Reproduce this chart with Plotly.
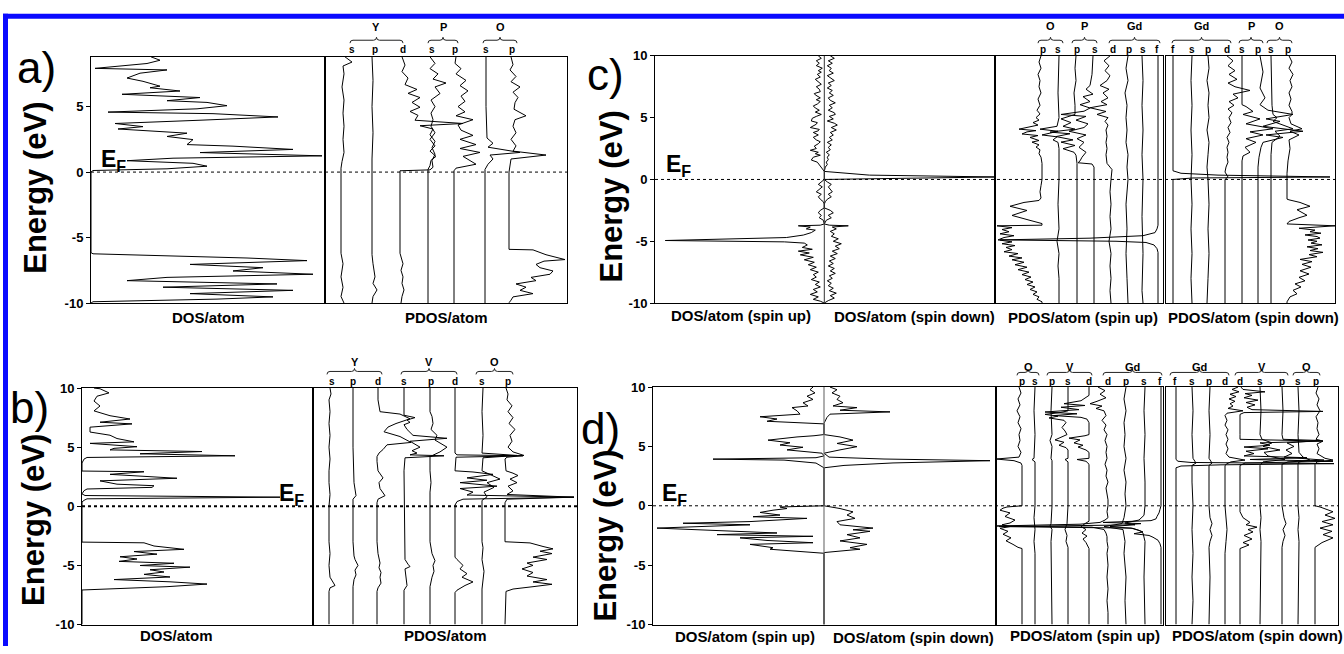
import plotly.graph_objects as go

W, H = 1344, 654
FONT = "Arial, 'Liberation Sans', Helvetica, sans-serif"

# ------------------------------------------------------------------
# Densities of states: (energy in eV, DOS in arbitrary units)
# ------------------------------------------------------------------

# ---- a) total DOS ----
a_dos = [(8.8, 60), (8.54, 69), (8.29, 56), (7.92, 4), (7.80, 76), (7.55, 49), (7.18, 36), (6.93, 52),
         (6.56, 69), (6.44, 59), (6.19, 89), (5.94, 31), (5.69, 109), (5.45, 76), (5.32, 116), (5.07, 136),
         (4.83, 106), (4.58, 17), (4.46, 122), (4.21, 187), (3.96, 109), (3.71, 24), (3.47, 52), (3.29, 27),
         (2.97, 96), (2.72, 76), (2.48, 102), (2.10, 96), (1.98, 142), (1.73, 202), (1.49, 109), (1.24, 231),
         (1.06, 82), (0.87, 36), (0.67, 102), (0.45, 116), (0.25, 76), (0.12, 2), (0.0, 0), (-6.15, 0),
         (-6.24, 2), (-6.56, 156), (-6.76, 216), (-7.05, 99), (-7.30, 172), (-7.55, 142), (-7.80, 222),
         (-8.04, 76), (-8.29, 36), (-8.54, 186), (-8.79, 72), (-9.03, 202), (-9.28, 99), (-9.53, 182),
         (-9.70, 126), (-9.90, 2), (-10.0, 0)]

# ---- a) projected DOS ----
a_Ys = [(8.8, 4), (8.4, 11), (8.1, 2), (7.5, 3), (6.5, 1), (5.5, 3), (4.5, 2), (3.5, 3), (2.5, 2), (1.5, 3),
        (0.8, 1), (0.3, 0), (-6.2, 0), (-7.0, 2), (-8.0, 0), (-8.8, 2), (-9.5, 0), (-10.0, 3)]
a_Yp = [(8.8, 0), (7.0, 1), (5.0, 0), (3.0, 1), (1.0, 0), (-6.3, 0), (-7.0, 1), (-8.0, 3), (-8.5, 1),
        (-9.0, 5), (-9.5, 1), (-10.0, 0)]
a_Yd = [(8.8, 2), (8.17, 5), (7.67, 2), (7.18, 8), (6.68, 5), (6.31, 17), (6.01, 8), (5.69, 20), (5.32, 12),
        (4.95, 20), (4.63, 10), (4.33, 18), (3.96, 15), (3.71, 63), (3.54, 20), (3.29, 33), (2.85, 30),
        (2.35, 35), (1.86, 32), (1.36, 35), (0.87, 32), (0.37, 33), (0.17, 30), (0.1, 0), (-6.2, 0),
        (-6.5, 1), (-7.0, 3), (-7.5, 1), (-8.0, 3), (-8.5, 2), (-9.0, 4), (-9.5, 2), (-10.0, 1)]
a_Ps = [(8.8, 2), (8.3, 7), (7.9, 2), (7.5, 10), (7.1, 5), (6.8, 18), (6.5, 7), (6.0, 12), (5.5, 3), (5.0, 7),
        (4.5, 3), (4.0, 5), (3.5, 3), (3.0, 7), (2.5, 2), (2.0, 7), (1.6, 2), (1.2, 8), (0.9, 3), (0.5, 2),
        (0.2, 0), (-10.0, 0)]
a_Pp = [(8.8, 2), (8.3, 1), (7.9, 7), (7.5, 2), (7.0, 12), (6.6, 6), (6.2, 14), (5.8, 7), (5.4, 11), (5.0, 4),
        (4.6, 11), (4.3, 2), (4.0, 19), (3.6, 4), (3.2, 7), (2.8, 19), (2.5, 6), (2.1, 22), (1.8, 6), (1.5, 26),
        (1.2, 9), (0.6, 22), (0.3, 2), (0.1, 0), (-10.0, 0)]
a_Os = [(8.8, 1), (5.0, 1), (2.6, 2), (2.2, 8), (1.9, 3), (1.5, 35), (1.3, 5), (1.0, 8), (0.6, 3), (0.2, 0),
        (-10.0, 0)]
a_Op = [(8.8, 2), (8.2, 4), (7.8, 1), (7.3, 7), (6.9, 2), (6.5, 11), (6.1, 4), (5.7, 9), (5.3, 6), (4.8, 5),
        (4.3, 17), (4.0, 6), (3.5, 4), (3.0, 7), (2.5, 2), (2.0, 7), (1.6, 4), (1.3, 37), (1.0, 2), (0.5, 1),
        (0.0, 0), (-5.9, 0), (-5.94, 24), (-6.31, 37), (-6.68, 56), (-6.8, 35), (-7.05, 27), (-7.30, 31),
        (-7.55, 44), (-7.80, 41), (-8.04, 22), (-8.29, 27), (-8.54, 7), (-8.79, 17), (-9.03, 11), (-9.28, 24),
        (-9.53, 4), (-9.78, 2), (-9.98, 0)]

# ---- b) total DOS ----
b_dos = [(10.0, 12), (9.94, 18), (9.59, 27), (9.31, 15), (8.90, 12), (8.48, 18), (8.07, 12), (7.66, 28),
         (7.38, 48), (7.11, 18), (6.97, 50), (6.69, 8), (6.28, 8), (6.01, 28), (5.73, 35), (5.45, 52),
         (5.32, 8), (5.04, 55), (4.90, 32), (4.77, 28), (4.63, 120), (4.44, 58), (4.27, 153), (4.13, 5),
         (3.99, 2), (3.66, 0), (2.98, 0), (2.92, 62), (2.70, 28), (2.37, 95), (2.15, 18), (1.87, 35),
         (1.74, 72), (1.60, 70), (1.46, 5), (1.32, 2), (1.05, 0), (0.91, 3), (0.77, 198), (0.63, 5),
         (0.50, 2), (0.36, 0), (-3.03, 0), (-3.09, 62), (-3.36, 72), (-3.64, 102), (-3.83, 52), (-4.05, 75),
         (-4.27, 38), (-4.46, 55), (-4.66, 37), (-4.82, 92), (-5.01, 58), (-5.15, 108), (-5.37, 68),
         (-5.56, 82), (-5.76, 62), (-5.98, 88), (-6.20, 32), (-6.39, 88), (-6.58, 125), (-6.80, 85),
         (-7.08, 0), (-10.0, 0)]

# ---- b) projected DOS ----
b_Ys = [(10.0, 1), (9.5, 2), (9.0, 0), (8.0, 1), (7.0, 0), (6.0, 1), (5.0, 0), (4.0, 1), (3.0, 0), (2.0, 0),
        (1.0, 1), (0.0, 0), (-3.0, 0), (-4.0, 1), (-5.0, 0), (-6.0, 1), (-6.7, 6), (-6.9, 1), (-7.2, 0),
        (-10.0, 0)]
b_Yp = [(10.0, 0), (5.0, 0), (2.0, 1), (0.9, 3), (0.6, 0), (-3.0, 0), (-4.2, 1), (-4.5, 2), (-5.0, 5),
        (-5.4, 2), (-5.8, 3), (-6.2, 1), (-6.8, 0), (-10.0, 0)]
b_Yd = [(10.0, 1), (9.0, 1), (8.0, 3), (7.8, 23), (7.4, 33), (7.0, 19), (6.7, 11), (6.3, 7), (5.9, 23),
        (5.4, 34), (5.2, 10), (4.8, 6), (4.5, 2), (4.2, 0), (3.8, 0), (3.0, 1), (2.4, 6), (2.0, 2), (1.5, 3),
        (0.9, 8), (0.6, 1), (0.3, 0), (-3.0, 0), (-4.0, 1), (-4.8, 3), (-5.2, 2), (-5.6, 4), (-6.0, 3),
        (-6.5, 4), (-6.9, 1), (-7.2, 0), (-10.0, 0)]
b_Vs = [(10.0, 0), (7.7, 0), (7.5, 11), (7.3, 3), (7.1, 6), (6.9, 0), (6.5, 3), (6.0, 9), (5.75, 43),
        (5.5, 6), (5.0, 16), (4.7, 8), (4.5, 13), (4.35, 6), (4.27, 40), (4.1, 1), (3.0, 0), (-4.5, 1),
        (-4.9, 4), (-5.1, 6), (-5.3, 1), (-6.7, 3), (-7.1, 0), (-10.0, 0)]
b_Vp = [(10.0, 0), (8.0, 0), (7.6, 2), (7.0, 3), (6.5, 1), (6.0, 7), (5.6, 5), (5.0, 17), (4.6, 10), (4.3, 3),
        (4.2, 0), (3.0, 0), (2.0, 1), (1.2, 0), (-3.0, 0), (-4.0, 2), (-4.6, 5), (-5.0, 3), (-5.5, 4),
        (-6.0, 2), (-6.8, 0), (-10.0, 0)]
b_Vd = [(10.0, 0), (4.5, 0), (4.35, 2), (4.27, 68), (4.15, 1), (3.0, 0), (2.9, 18), (2.7, 38), (2.4, 12),
        (2.2, 32), (2.0, 5), (1.7, 42), (1.5, 5), (1.2, 18), (0.95, 12), (0.77, 119), (0.6, 8), (0.4, 2),
        (0.1, 0), (-4.3, 0), (-4.5, 2), (-5.0, 8), (-5.3, 5), (-5.7, 12), (-6.0, 7), (-6.4, 18), (-6.7, 10),
        (-7.1, 2), (-7.3, 0), (-10.0, 0)]
b_Os = [(10.0, 1), (8.0, 0), (6.0, 1), (4.5, 0), (4.3, 35), (4.1, 1), (3.0, 0), (2.6, 10), (2.3, 18), (2.0, 5),
        (1.6, 12), (1.2, 2), (0.8, 5), (0.5, 0), (-3.0, 0), (-3.5, 1), (-4.5, 0), (-5.5, 2), (-6.5, 1),
        (-7.0, 0), (-10.0, 0)]
b_Op = [(10.0, 1), (9.5, 3), (9.0, 2), (8.5, 7), (8.0, 3), (7.5, 8), (7.0, 4), (6.5, 10), (6.0, 5), (5.5, 7),
        (5.0, 3), (4.6, 8), (4.3, 19), (4.15, 2), (4.0, 0), (3.0, 1), (2.8, 8), (2.6, 13), (2.3, 5), (2.0, 12),
        (1.7, 3), (1.3, 8), (1.0, 2), (0.77, 69), (0.6, 2), (0.3, 0), (-3.0, 0), (-3.1, 25), (-3.4, 38),
        (-3.6, 48), (-3.8, 35), (-4.0, 47), (-4.3, 28), (-4.5, 42), (-4.8, 22), (-5.0, 28), (-5.3, 17),
        (-5.6, 28), (-5.9, 22), (-6.2, 42), (-6.4, 28), (-6.6, 47), (-6.8, 28), (-7.0, 8), (-7.2, 1),
        (-10.0, 0)]

# ---- c) total DOS, spin up / spin down ----
c_dos_up = [(10.0, 6), (9.8, 3), (9.6, 8), (9.4, 5), (9.21, 8), (9.0, 2), (8.8, 6), (8.68, 3), (8.5, 7),
            (8.29, 4), (8.1, 9), (7.89, 6), (7.7, 3), (7.5, 8), (7.3, 5), (7.1, 4), (6.95, 10), (6.84, 9),
            (6.6, 4), (6.45, 8), (6.31, 4), (6.1, 7), (5.95, 11), (5.78, 9), (5.6, 5), (5.45, 9), (5.26, 3),
            (5.1, 8), (4.95, 12), (4.73, 13), (4.6, 7), (4.47, 8), (4.3, 12), (4.2, 14), (4.05, 5), (3.94, 6),
            (3.8, 11), (3.6, 6), (3.41, 11), (3.2, 8), (3.05, 4), (2.89, 6), (2.7, 10), (2.5, 8), (2.36, 14),
            (2.2, 6), (2.08, 9), (1.96, 4), (1.8, 11), (1.57, 13), (1.4, 7), (1.2, 5), (1.04, 3), (0.85, 2),
            (0.65, 0), (0.0, 0), (-0.2, 3), (-0.4, 6), (-0.6, 2), (-0.8, 5), (-1.0, 8), (-1.2, 3), (-1.4, 6),
            (-1.6, 4), (-1.8, 1), (-2.0, 0), (-2.3, 0), (-2.5, 4), (-2.7, 6), (-2.9, 3), (-3.1, 5), (-3.3, 1),
            (-3.6, 0), (-3.7, 4), (-3.75, 26), (-3.85, 14), (-4.0, 18), (-4.1, 9), (-4.3, 13), (-4.5, 21),
            (-4.7, 38), (-4.94, 159), (-5.05, 40), (-5.15, 20), (-5.3, 17), (-5.5, 22), (-5.65, 12), (-5.8, 26),
            (-5.95, 15), (-6.1, 24), (-6.3, 11), (-6.5, 20), (-6.7, 10), (-6.9, 16), (-7.1, 8), (-7.3, 14),
            (-7.5, 6), (-7.7, 11), (-7.9, 8), (-8.1, 13), (-8.3, 5), (-8.5, 9), (-8.7, 4), (-8.9, 11),
            (-9.1, 7), (-9.3, 14), (-9.5, 6), (-9.7, 11), (-9.85, 4), (-10.0, 0)]
c_dos_dn = [(10.0, 6), (9.8, 10), (9.6, 4), (9.4, 8), (9.2, 3), (9.0, 7), (8.8, 5), (8.6, 9), (8.4, 3),
            (8.2, 6), (8.0, 10), (7.8, 4), (7.6, 7), (7.4, 3), (7.2, 8), (7.0, 5), (6.8, 9), (6.6, 4), (6.4, 6),
            (6.2, 11), (6.0, 5), (5.8, 8), (5.6, 4), (5.4, 10), (5.26, 11), (5.1, 5), (4.9, 9), (4.73, 3),
            (4.55, 10), (4.4, 13), (4.2, 7), (4.0, 12), (3.8, 6), (3.6, 9), (3.4, 5), (3.2, 8), (3.0, 3),
            (2.8, 7), (2.6, 4), (2.4, 6), (2.2, 2), (2.0, 5), (1.8, 3), (1.6, 4), (1.4, 2), (1.2, 3), (1.0, 1),
            (0.65, 0), (0.5, 20), (0.35, 45), (0.2, 171), (0.1, 60), (0.03, 3), (0.0, 0), (-0.2, 3), (-0.4, 7),
            (-0.6, 4), (-0.8, 6), (-1.0, 8), (-1.2, 4), (-1.4, 7), (-1.6, 3), (-1.8, 1), (-2.0, 0), (-2.3, 0),
            (-2.5, 6), (-2.7, 9), (-2.9, 4), (-3.1, 7), (-3.3, 2), (-3.6, 0), (-3.7, 5), (-3.75, 24),
            (-3.85, 8), (-4.0, 12), (-4.2, 6), (-4.4, 10), (-4.6, 7), (-4.8, 14), (-5.0, 9), (-5.2, 17),
            (-5.4, 11), (-5.6, 15), (-5.8, 8), (-6.0, 13), (-6.2, 6), (-6.4, 11), (-6.6, 5), (-6.8, 9),
            (-7.0, 4), (-7.2, 10), (-7.4, 6), (-7.6, 11), (-7.8, 5), (-8.0, 8), (-8.2, 3), (-8.4, 7), (-8.6, 4),
            (-8.8, 9), (-9.0, 5), (-9.2, 12), (-9.4, 6), (-9.6, 10), (-9.8, 4), (-10.0, 0)]

# ---- c) projected DOS, spin up ----
c_up_Op = [(10.0, 1), (9.5, 3), (9.0, 1), (8.5, 4), (8.0, 2), (7.5, 3), (7.0, 1), (6.5, 4), (6.0, 2), (5.6, 5),
           (5.3, 2), (5.0, 6), (4.8, 3), (4.6, 9), (4.4, 4), (4.2, 14), (4.07, 23), (3.95, 6), (3.85, 15),
           (3.68, 20), (3.55, 4), (3.4, 12), (3.28, 8), (3.15, 3), (3.02, 10), (2.8, 3), (2.62, 6), (2.4, 2),
           (2.09, 3), (1.8, 1), (1.3, 0), (0.0, 0), (-0.5, 1), (-1.0, 2), (-1.5, 1), (-1.7, 3), (-1.86, 18),
           (-2.17, 32), (-2.51, 15), (-2.91, 30), (-3.31, 12), (-3.57, 0), (-3.7, 0), (-3.75, 45), (-3.9, 30),
           (-4.05, 40), (-4.23, 33), (-4.4, 42), (-4.55, 28), (-4.7, 38), (-4.89, 44), (-5.05, 30), (-5.2, 40),
           (-5.35, 27), (-5.5, 36), (-5.68, 30), (-5.85, 38), (-6.0, 24), (-6.2, 33), (-6.35, 20), (-6.5, 30),
           (-6.7, 18), (-6.9, 27), (-7.1, 15), (-7.3, 24), (-7.5, 13), (-7.7, 20), (-7.9, 11), (-8.1, 17),
           (-8.3, 9), (-8.5, 15), (-8.7, 7), (-8.9, 12), (-9.1, 5), (-9.3, 9), (-9.5, 3), (-9.7, 5), (-9.9, 0),
           (-10.0, 0)]
c_up_Os = [(10.0, 0), (7.0, 1), (5.0, 0), (4.3, 2), (4.07, 19), (3.9, 1), (3.6, 17), (3.45, 2), (3.2, 6),
           (3.0, 1), (2.5, 0), (0.0, 0), (-2.0, 1), (-4.0, 0), (-5.0, 2), (-6.0, 0), (-7.0, 1), (-8.0, 0),
           (-10.0, 0)]
c_up_Pp = [(10.0, 1), (9.0, 2), (8.0, 1), (7.0, 3), (6.0, 2), (5.26, 2), (4.9, 16), (4.6, 6), (4.3, 14),
           (4.07, 2), (3.83, 27), (3.7, 7), (3.47, 21), (3.2, 4), (3.02, 16), (2.75, 2), (2.49, 14), (2.2, 3),
           (1.96, 1), (1.3, 0), (-10.0, 0)]
c_up_Ps = [(10.0, 1), (8.5, 2), (7.6, 4), (7.3, 8), (6.9, 1), (6.7, 11), (6.3, 4), (6.05, 14), (5.78, 4),
           (5.52, 10), (5.26, 33), (5.1, 8), (4.8, 18), (4.5, 6), (4.2, 10), (3.9, 25), (3.6, 8), (3.3, 17),
           (3.0, 10), (2.6, 15), (2.2, 8), (1.8, 12), (1.5, 14), (1.35, 16), (1.25, 2), (1.0, 0), (-10.0, 0)]
c_up_Gdd = [(10.0, 2), (9.6, 8), (9.2, 3), (8.8, 7), (8.4, 2), (8.0, 5), (7.6, 12), (7.3, 3), (7.0, 9),
            (6.6, 4), (6.3, 11), (6.05, 5), (5.8, 22), (5.5, 6), (5.26, 15), (5.0, 4), (4.7, 7), (4.4, 4),
            (4.0, 6), (3.5, 5), (3.0, 6), (2.5, 5), (2.0, 6), (1.5, 5), (1.3, 5), (1.0, 2), (0.8, 0), (0.0, 1),
            (-1.0, 2), (-2.0, 1), (-3.0, 2), (-4.0, 1), (-5.0, 3), (-6.0, 1), (-7.0, 2), (-8.0, 1), (-9.0, 2),
            (-10.0, 1)]
c_up_Gdp = [(10.0, 0), (9.0, 2), (8.0, 0), (7.0, 3), (6.0, 1), (5.0, 2), (4.0, 1), (3.0, 2), (2.0, 0),
            (1.0, 1), (0.0, 0), (-2.0, 2), (-4.0, 1), (-6.0, 2), (-8.0, 1), (-10.0, 0)]
c_up_Gds = [(10.0, 1), (8.0, 0), (6.0, 1), (4.0, 0), (2.0, 1), (0.0, 0), (-3.0, 1), (-6.0, 0), (-9.0, 1),
            (-10.0, 0)]
c_up_Gdf = [(10.0, 0), (-3.7, 0), (-4.0, 1), (-4.3, 3), (-4.55, 15), (-4.75, 68), (-4.89, 158), (-5.0, 42),
            (-5.1, 12), (-5.3, 4), (-5.6, 1), (-5.9, 0), (-10.0, 0)]

# ---- c) projected DOS, spin down ----
c_dn_Gdf = [(10.0, 0), (0.7, 0), (0.5, 8), (0.35, 45), (0.25, 120), (0.2, 157), (0.12, 20), (0.04, 2),
            (0.0, 0), (-10.0, 0)]
c_dn_Gds = [(10.0, 1), (8.0, 0), (6.0, 1), (4.0, 0), (2.0, 1), (0.0, 0), (-2.0, 1), (-4.0, 0), (-6.0, 1),
            (-8.0, 0), (-10.0, 1)]
c_dn_Gdp = [(10.0, 1), (9.0, 2), (8.0, 0), (7.0, 2), (6.0, 1), (5.0, 2), (4.0, 0), (3.0, 2), (2.0, 1),
            (1.0, 0), (0.0, 1), (-2.0, 2), (-4.0, 1), (-6.0, 2), (-8.0, 1), (-10.0, 0)]
c_dn_Gdd = [(10.0, 2), (9.6, 8), (9.2, 3), (8.8, 10), (8.5, 4), (8.1, 12), (7.8, 3), (7.5, 10), (7.2, 25),
            (6.9, 8), (6.6, 13), (6.3, 4), (6.0, 9), (5.7, 3), (5.4, 7), (5.0, 4), (4.6, 6), (4.2, 3), (3.8, 5),
            (3.4, 2), (3.0, 4), (2.6, 2), (2.2, 3), (1.8, 2), (1.4, 3), (1.0, 1), (0.6, 0), (0.2, 3), (0.0, 0),
            (-10.0, 0)]
c_dn_Ps = [(10.0, 0), (6.05, 0), (5.9, 4), (5.5, 11), (5.26, 1), (4.9, 18), (4.5, 4), (4.1, 31), (3.85, 8),
           (3.6, 21), (3.3, 4), (3.0, 14), (2.6, 3), (2.2, 8), (1.9, 1), (1.5, 0), (-10.0, 0)]
c_dn_Pp = [(10.0, 2), (8.7, 5), (7.4, 2), (6.6, 7), (6.05, 2), (5.6, 10), (5.26, 35), (4.9, 8), (4.7, 22),
           (4.3, 5), (3.9, 45), (3.6, 8), (3.4, 25), (3.0, 5), (2.6, 3), (1.8, 1), (1.0, 0), (-10.0, 0)]
c_dn_Os = [(10.0, 0), (6.0, 1), (5.26, 2), (5.0, 6), (4.7, 2), (4.1, 22), (3.9, 4), (3.5, 9), (3.0, 1),
           (2.0, 0), (-10.0, 0)]
c_dn_Op = [(10.0, 2), (9.5, 5), (9.0, 2), (8.5, 6), (8.0, 3), (7.5, 5), (7.0, 2), (6.5, 4), (6.0, 2), (5.5, 5),
           (5.26, 5), (5.0, 2), (4.5, 4), (4.1, 15), (3.9, 3), (3.6, 12), (3.2, 2), (2.5, 3), (1.5, 1), (0.5, 0),
           (-1.59, 0), (-1.65, 2), (-1.86, 13), (-2.17, 23), (-2.45, 10), (-2.9, 20), (-3.1, 12), (-3.4, 2),
           (-3.6, 0), (-3.75, 48), (-3.95, 12), (-4.1, 28), (-4.23, 23), (-4.35, 34), (-4.49, 18), (-4.62, 30),
           (-4.75, 33), (-4.9, 21), (-5.0, 30), (-5.15, 24), (-5.29, 35), (-5.45, 20), (-5.6, 31), (-5.75, 23),
           (-5.9, 36), (-6.08, 22), (-6.25, 30), (-6.47, 13), (-6.65, 25), (-6.87, 15), (-7.1, 24), (-7.39, 13),
           (-7.65, 22), (-7.92, 12), (-8.2, 18), (-8.45, 8), (-8.7, 14), (-8.97, 6), (-9.25, 10), (-9.5, 3),
           (-9.9, 0), (-10.0, 0)]

# ---- d) total DOS, spin up / spin down ----
d_dos_up = [(10.0, 11), (9.78, 14), (9.51, 9), (9.23, 17), (8.96, 11), (8.68, 21), (8.41, 16), (8.27, 32),
            (8.0, 27), (7.72, 24), (7.5, 64), (7.31, 47), (7.12, 57), (6.95, 1), (6.9, 0), (6.0, 0), (5.9, 10),
            (5.8, 27), (5.53, 56), (5.31, 34), (5.12, 44), (4.93, 21), (4.71, 37), (4.43, 2), (4.2, 0),
            (4.05, 8), (3.93, 111), (3.85, 40), (3.6, 8), (3.2, 0), (0.0, 0), (-0.1, 44), (-0.23, 37),
            (-0.37, 51), (-0.56, 64), (-0.78, 44), (-0.92, 71), (-1.06, 17), (-1.33, 74), (-1.47, 141),
            (-1.6, 74), (-1.88, 167), (-2.15, 87), (-2.29, 47), (-2.43, 107), (-2.57, 11), (-2.7, 84),
            (-2.92, 57), (-3.11, 11), (-3.25, 74), (-3.53, 51), (-3.66, 54), (-3.75, 40), (-4.0, 0),
            (-10.0, 0)]
d_dos_dn = [(10.0, 6), (9.78, 13), (9.51, 8), (9.23, 16), (8.96, 13), (8.68, 19), (8.41, 9), (8.27, 33),
            (8.05, 16), (7.91, 66), (7.72, 6), (7.45, 3), (6.95, 0), (6.0, 0), (5.8, 16), (5.53, 29), (5.25, 13),
            (4.98, 33), (4.71, 16), (4.43, 0), (4.1, 5), (4.02, 29), (3.94, 60), (3.8, 166), (3.61, 69),
            (3.4, 20), (3.2, 0), (0.0, 0), (-0.23, 16), (-0.51, 29), (-0.78, 23), (-1.06, 31), (-1.33, 13),
            (-1.6, 16), (-1.88, 49), (-2.02, 29), (-2.15, 46), (-2.43, 23), (-2.7, 36), (-2.96, 16),
            (-3.25, 43), (-3.53, 26), (-3.66, 36), (-3.94, 0), (-10.0, 0)]

# ---- d) projected DOS, spin up ----
d_up_Op = [(10.0, 3), (9.5, 1), (9.0, 4), (8.5, 2), (8.0, 5), (7.5, 2), (7.0, 4), (6.5, 1), (6.0, 3), (5.5, 2),
           (5.0, 4), (4.5, 1), (4.1, 3), (3.94, 26), (3.8, 8), (3.6, 1), (3.4, 0), (0.0, 0), (-0.1, 15),
           (-0.2, 19), (-0.37, 22), (-0.6, 12), (-0.9, 17), (-1.2, 7), (-1.45, 12), (-1.6, 20), (-1.75, 12),
           (-1.9, 22), (-2.15, 14), (-2.4, 19), (-2.7, 11), (-2.95, 16), (-3.25, 9), (-3.5, 4), (-3.6, 0),
           (-10.0, 0)]
d_up_Os = [(10.0, 0), (8.0, 1), (6.0, 0), (4.0, 1), (3.9, 3), (3.7, 0), (0.0, 0), (-1.0, 1), (-2.0, 0),
           (-3.0, 1), (-4.0, 0), (-10.0, 0)]
d_up_Vp = [(10.0, 0), (8.0, 1), (6.0, 0), (5.5, 2), (5.0, 0), (4.0, 1), (3.8, 0), (0.0, 0), (-1.5, 1),
           (-1.7, 2), (-2.0, 0), (-3.0, 1), (-10.0, 0)]
d_up_Vs = [(10.0, 0), (8.0, 0), (7.85, 8), (7.7, 23), (7.55, 10), (7.4, 19), (7.2, 4), (7.0, 2), (6.6, 6),
           (6.3, 3), (6.0, 1), (5.8, 7), (5.55, 13), (5.35, 4), (5.1, 9), (4.9, 2), (4.7, 0), (4.0, 0), (3.9, 3),
           (3.7, 0), (0.0, 0), (-1.5, 1), (-2.0, 3), (-2.5, 1), (-3.0, 2), (-3.5, 0), (-10.0, 0)]
d_up_Vd = [(10.0, 0), (9.3, 0), (8.85, 8), (8.6, 25), (8.45, 4), (8.3, 28), (8.1, 10), (7.9, 44), (7.75, 12),
           (7.6, 35), (7.45, 8), (7.3, 2), (7.0, 0), (6.0, 0), (5.9, 4), (5.7, 20), (5.55, 9), (5.3, 15),
           (5.1, 6), (4.95, 11), (4.7, 3), (4.5, 0), (4.0, 0), (3.9, 12), (3.75, 3), (3.5, 0), (0.0, 0),
           (-1.3, 0), (-1.5, 4), (-1.75, 8), (-2.0, 3), (-2.3, 7), (-2.55, 2), (-2.8, 6), (-3.1, 3), (-3.4, 1),
           (-3.6, 0), (-10.0, 0)]
d_up_Gdd = [(10.0, 12), (9.7, 5), (9.4, 10), (9.1, 4), (8.8, 13), (8.6, 20), (8.4, 8), (8.2, 14), (8.0, 6),
            (7.6, 4), (7.2, 8), (6.8, 4), (6.4, 6), (6.0, 3), (5.5, 5), (5.0, 3), (4.5, 4), (4.0, 3), (3.5, 5),
            (3.0, 3), (2.5, 4), (2.0, 2), (1.5, 4), (1.0, 3), (0.5, 2), (0.0, 2), (-0.5, 3), (-1.0, 2),
            (-1.2, 5), (-1.4, 10), (-1.55, 30), (-1.7, 113), (-1.8, 18), (-2.0, 6), (-2.3, 4), (-2.6, 3),
            (-3.0, 3), (-3.5, 2), (-4.0, 3), (-5.0, 2), (-6.0, 3), (-7.0, 2), (-8.0, 3), (-9.0, 2), (-10.0, 2)]
d_up_Gdp = [(10.0, 0), (9.0, 2), (8.0, 0), (7.0, 2), (6.0, 1), (5.0, 2), (4.0, 0), (3.0, 2), (2.0, 0),
            (1.0, 1), (0.0, 0), (-1.0, 2), (-1.5, 4), (-1.75, 22), (-2.0, 3), (-3.0, 1), (-4.0, 2), (-6.0, 0),
            (-8.0, 1), (-10.0, 0)]
d_up_Gds = [(10.0, 0), (8.0, 1), (6.0, 0), (4.0, 1), (2.0, 0), (0.0, 0), (-0.8, 1), (-1.2, 6), (-1.45, 20),
            (-1.6, 10), (-1.75, 35), (-1.9, 12), (-2.1, 5), (-2.3, 2), (-3.0, 0), (-6.0, 1), (-10.0, 0)]
d_up_Gdf = [(10.0, 0), (0.0, 0), (-0.3, 1), (-0.6, 2), (-0.9, 4), (-1.1, 5), (-1.25, 10), (-1.4, 58),
            (-1.5, 20), (-1.62, 38), (-1.75, 162), (-1.88, 30), (-2.05, 23), (-2.2, 18), (-2.35, 27),
            (-2.5, 12), (-2.65, 8), (-2.9, 3), (-3.2, 1), (-3.5, 0), (-10.0, 0)]

# ---- d) projected DOS, spin down ----
d_dn_Gdf = [(10.0, 0), (3.9, 0), (3.75, 2), (3.65, 15), (3.55, 158), (3.45, 45), (3.35, 5), (3.2, 0),
            (-10.0, 0)]
d_dn_Gds = [(10.0, 0), (8.0, 1), (6.0, 0), (4.0, 1), (3.6, 4), (3.4, 0), (2.0, 0), (0.0, 1), (-2.0, 0),
            (-4.0, 1), (-6.0, 0), (-8.0, 1), (-10.0, 0)]
d_dn_Gdp = [(10.0, 1), (8.0, 0), (6.0, 1), (4.0, 0), (3.6, 3), (3.4, 0), (0.0, 0), (-1.0, 1), (-1.5, 3),
            (-2.0, 1), (-2.5, 3), (-3.0, 1), (-3.5, 0), (-6.0, 1), (-10.0, 0)]
d_dn_Gdd = [(10.0, 13), (9.8, 7), (9.6, 14), (9.4, 5), (9.2, 11), (9.0, 4), (8.8, 10), (8.6, 5), (8.4, 8),
            (8.2, 3), (8.0, 18), (7.8, 2), (7.6, 0), (7.2, 2), (6.8, 0), (6.4, 3), (6.0, 1), (5.6, 3), (5.2, 1),
            (4.8, 3), (4.4, 1), (4.1, 4), (3.85, 20), (3.7, 6), (3.55, 2), (3.4, 0), (0.0, 0), (-1.0, 1),
            (-2.0, 2), (-3.0, 1), (-4.0, 0), (-10.0, 0)]
d_dn_Vd = [(10.0, 1), (9.8, 3), (9.6, 25), (9.45, 5), (9.3, 12), (9.1, 4), (8.9, 18), (8.7, 6), (8.5, 15),
           (8.3, 7), (8.1, 12), (7.95, 83), (7.85, 4), (7.7, 0), (6.0, 0), (5.6, 0), (5.45, 83), (5.3, 20),
           (5.1, 30), (4.95, 4), (4.8, 28), (4.6, 6), (4.4, 14), (4.2, 4), (4.05, 67), (3.9, 10), (3.75, 93),
           (3.6, 5), (3.4, 0), (0.0, 0), (-0.5, 0), (-1.0, 3), (-1.4, 10), (-1.6, 6), (-1.8, 17), (-2.0, 8),
           (-2.2, 13), (-2.5, 4), (-2.8, 12), (-3.1, 3), (-3.3, 9), (-3.6, 0), (-10.0, 0)]
d_dn_Vs = [(10.0, 0), (8.0, 1), (6.0, 0), (5.6, 2), (5.3, 12), (5.0, 3), (4.7, 20), (4.5, 4), (4.2, 8),
           (3.9, 25), (3.7, 3), (3.4, 0), (0.0, 0), (-1.0, 1), (-2.0, 0), (-3.0, 1), (-10.0, 0)]
d_dn_Vp = [(10.0, 0), (8.0, 1), (6.0, 0), (5.6, 1), (5.5, 38), (5.3, 5), (5.0, 12), (4.7, 4), (4.4, 10),
           (4.1, 2), (3.85, 42), (3.7, 6), (3.5, 0), (0.0, 0), (-1.0, 2), (-1.5, 4), (-2.0, 1), (-2.5, 3),
           (-3.0, 1), (-3.5, 0), (-10.0, 0)]
d_dn_Os = [(10.0, 0), (8.0, 1), (6.0, 0), (4.5, 1), (4.1, 5), (3.85, 12), (3.7, 1), (3.5, 0), (0.0, 0),
           (-1.0, 1), (-2.0, 0), (-3.0, 1), (-10.0, 0)]
d_dn_Op = [(10.0, 3), (9.5, 1), (9.0, 4), (8.5, 2), (8.0, 5), (7.5, 1), (7.0, 3), (6.5, 2), (6.0, 4), (5.6, 1),
           (5.45, 8), (5.2, 2), (4.8, 4), (4.4, 2), (4.0, 10), (3.85, 18), (3.7, 2), (3.5, 0), (0.0, 0),
           (-0.1, 5), (-0.5, 18), (-0.78, 10), (-1.06, 20), (-1.33, 7), (-1.6, 18), (-1.88, 5), (-2.15, 17),
           (-2.43, 8), (-2.7, 18), (-3.1, 7), (-3.5, 0), (-10.0, 0)]

# energy tick labels
tick_vals_a = [-10, -5, 0, 5]
tick_vals = [-10, -5, 0, 5, 10]
tick_text = {-10: "-10", -5: "-5", 0: "0", 5: "5", 10: "10"}

# column / group labels
a_sub = ["s", "p", "d", "s", "p", "s", "p"]
a_groups = ["Y", "P", "O"]
b_sub = ["s", "p", "d", "s", "p", "d", "s", "p"]
b_groups = ["Y", "V", "O"]
c_up_sub = ["p", "s", "p", "s", "d", "p", "s", "f"]
c_up_groups = ["O", "P", "Gd"]
c_dn_sub = ["f", "s", "p", "d", "s", "p", "s", "p"]
c_dn_groups = ["Gd", "P", "O"]
d_up_sub = ["p", "s", "p", "s", "d", "d", "p", "s", "f"]
d_up_groups = ["O", "V", "Gd"]
d_dn_sub = ["f", "s", "p", "d", "d", "s", "p", "s", "p"]
d_dn_groups = ["Gd", "V", "O"]

# ------------------------------------------------------------------
# page geometry (pixels)
# ------------------------------------------------------------------
def X(p):
    return p / W


def Y(p):
    return 1 - p / H


# (left, right, top, bottom, energy range, DOS range)
boxes = [
    (91, 325, 51, 303, [-10, 8.8], [0, 234]),          # 1  a total
    (325, 567, 51, 303, [-10, 8.8], [0, 242]),         # 2  a projected
    (82, 313, 390, 632, [-10, 10], [0, 231]),          # 3  b total
    (313, 577, 390, 632, [-10, 10], [0, 264]),         # 4  b projected
    (655, 995, 50, 303, [-10, 10], [-169.3, 170.7]),   # 5  c total (up | down)
    (995, 1163, 50, 303, [-10, 10], [0, 168]),         # 6  c projected up
    (1166, 1335, 50, 303, [-10, 10], [0, 169]),        # 7  c projected down
    (653, 996, 389, 632, [-10, 10], [-171, 172]),      # 8  d total (up | down)
    (996, 1163, 389, 632, [-10, 10], [0, 167]),        # 9  d projected up
    (1166, 1338, 389, 632, [-10, 10], [0, 172]),       # 10 d projected down
]
tick_axes = {1: tick_vals_a, 3: tick_vals, 5: tick_vals, 8: tick_vals}

fig = go.Figure()


def ax(k):
    return ("x" if k == 1 else f"x{k}"), ("y" if k == 1 else f"y{k}")


def add_curve(pairs, k, base=0.0, sign=1, width=1.0):
    xa, ya = ax(k)
    fig.add_trace(go.Scatter(
        x=[base + sign * v for _, v in pairs], y=[e for e, _ in pairs],
        mode="lines", line=dict(color="black", width=width),
        xaxis=xa, yaxis=ya, showlegend=False, hoverinfo="skip"))


# total DOS
add_curve(a_dos, 1)
add_curve(b_dos, 3)
add_curve(c_dos_up, 5, sign=-1)
add_curve(c_dos_dn, 5)
add_curve(d_dos_up, 8, sign=-1)
add_curve(d_dos_dn, 8)

# projected DOS columns: (curve, baseline position in page pixels)
pdos_panels = [
    (2, 1, [(a_Ys, 341), (a_Yp, 372), (a_Yd, 400), (a_Ps, 428), (a_Pp, 454), (a_Os, 485), (a_Op, 509)]),
    (4, 1, [(b_Ys, 329), (b_Yp, 353), (b_Yd, 377), (b_Vs, 404), (b_Vp, 430), (b_Vd, 455), (b_Os, 482),
            (b_Op, 505)]),
    (6, -1, [(c_up_Op, 1042), (c_up_Os, 1059), (c_up_Pp, 1077), (c_up_Ps, 1094), (c_up_Gdd, 1112),
             (c_up_Gdp, 1128), (c_up_Gds, 1143), (c_up_Gdf, 1158)]),
    (7, 1, [(c_dn_Gdf, 1173), (c_dn_Gds, 1191), (c_dn_Gdp, 1207), (c_dn_Gdd, 1225), (c_dn_Ps, 1242),
            (c_dn_Pp, 1258), (c_dn_Os, 1271), (c_dn_Op, 1287)]),
    (9, -1, [(d_up_Op, 1022), (d_up_Os, 1035), (d_up_Vp, 1052), (d_up_Vs, 1068), (d_up_Vd, 1089),
             (d_up_Gdd, 1110), (d_up_Gdp, 1126), (d_up_Gds, 1145), (d_up_Gdf, 1161)]),
    (10, 1, [(d_dn_Gdf, 1176), (d_dn_Gds, 1192), (d_dn_Gdp, 1209), (d_dn_Gdd, 1225), (d_dn_Vd, 1240),
             (d_dn_Vs, 1260), (d_dn_Vp, 1282), (d_dn_Os, 1298), (d_dn_Op, 1315)]),
]
for k, sign, cols in pdos_panels:
    left = boxes[k - 1][0]
    for curve, base_px in cols:
        add_curve(curve, k, base=base_px - left, sign=sign)

# ------------------------------------------------------------------
# axes
# ------------------------------------------------------------------
layout = dict(width=W, height=H, margin=dict(l=0, r=0, t=0, b=0),
              paper_bgcolor="white", plot_bgcolor="rgba(0,0,0,0)", showlegend=False,
              font=dict(family=FONT, color="black"))
for k, (l, r, t, b, yr, xr) in enumerate(boxes, start=1):
    xa, ya = ax(k)
    layout["xaxis" if k == 1 else f"xaxis{k}"] = dict(
        domain=[X(l), X(r)], range=xr, anchor=ya, showline=True, mirror=True, linecolor="black",
        linewidth=1, showgrid=False, zeroline=False, showticklabels=False, ticks="", fixedrange=True)
    yax = dict(domain=[Y(b), Y(t)], range=yr, anchor=xa, showline=True, mirror=True, linecolor="black",
               linewidth=1, showgrid=False, zeroline=False, fixedrange=True, showticklabels=False, ticks="")
    if k in tick_axes:
        vals = tick_axes[k]
        yax.update(showticklabels=True, tickmode="array", tickvals=vals,
                   ticktext=[f"<b>{tick_text[v]}</b>" for v in vals],
                   ticks="outside", ticklen=4, tickcolor="black",
                   tickfont=dict(family=FONT, size=13, color="black"))
    layout["yaxis" if k == 1 else f"yaxis{k}"] = yax

shapes = []
# frame bars
shapes.append(dict(type="rect", xref="paper", yref="paper", x0=X(3), x1=X(1344), y0=Y(12), y1=Y(7),
                   fillcolor="#0a0aff", line=dict(width=0)))
shapes.append(dict(type="rect", xref="paper", yref="paper", x0=X(3), x1=X(8), y0=Y(654), y1=Y(7),
                   fillcolor="#0a0aff", line=dict(width=0)))
# Fermi level
for yref, x0, x1, wd in [("y", 91, 567, 1), ("y3", 82, 577, 2), ("y5", 655, 1335, 1), ("y8", 653, 1338, 1)]:
    shapes.append(dict(type="line", xref="paper", yref=yref, x0=X(x0), x1=X(x1), y0=0, y1=0,
                       line=dict(color="black", width=wd, dash="dot")))
# spin separators
shapes.append(dict(type="line", xref="x5", yref="y5", x0=0, x1=0, y0=-10, y1=10,
                   line=dict(color="#333333", width=1)))
shapes.append(dict(type="line", xref="x8", yref="y8", x0=0, x1=0, y0=-10, y1=10,
                   line=dict(color="#777777", width=1.2)))


def brace(x1, x2, yb, depth=6):
    xc = (x1 + x2) / 2
    ym, yt, r = yb - depth / 2, yb - depth, 3
    pts = (f"M {X(x1)},{Y(yb)} Q {X(x1)},{Y(ym)} {X(x1 + r)},{Y(ym)} L {X(xc - r)},{Y(ym)} "
           f"Q {X(xc)},{Y(ym)} {X(xc)},{Y(yt)} Q {X(xc)},{Y(ym)} {X(xc + r)},{Y(ym)} "
           f"L {X(x2 - r)},{Y(ym)} Q {X(x2)},{Y(ym)} {X(x2)},{Y(yb)}")
    return dict(type="path", xref="paper", yref="paper", path=pts, line=dict(color="#222222", width=1))


annotations = []


def text(x, y, s, size, bold=True, angle=0, xanchor="center", yanchor="middle"):
    annotations.append(dict(x=X(x), y=Y(y), xref="paper", yref="paper", showarrow=False,
                            text=f"<b>{s}</b>" if bold else s, textangle=angle,
                            xanchor=xanchor, yanchor=yanchor,
                            font=dict(family=FONT, size=size, color="black")))


# column headers: (sub labels, x positions, y), (groups, brace spans, brace bottom, group label y)
headers = [
    (a_sub, [352, 375, 403, 432, 455, 486, 512], 43, a_groups, [(350, 403), (428, 458), (483, 517)], 37, 20),
    (b_sub, [332, 353, 378, 404, 431, 455, 482, 508], 383, b_groups, [(327, 382), (401, 457), (476, 513)], 376, 363),
    (c_up_sub, [1043, 1058, 1077, 1095, 1113, 1129, 1143, 1157], 43, c_up_groups,
     [(1038, 1063), (1072, 1097), (1109, 1160)], 37, 19),
    (c_dn_sub, [1173, 1192, 1208, 1227, 1242, 1258, 1271, 1288], 43, c_dn_groups,
     [(1172, 1231), (1239, 1263), (1267, 1292)], 37, 19),
    (d_up_sub, [1022, 1035, 1052, 1068, 1089, 1108, 1126, 1144, 1160], 383, d_up_groups,
     [(1017, 1039), (1047, 1092), (1103, 1162)], 377, 368),
    (d_dn_sub, [1175, 1192, 1209, 1225, 1240, 1260, 1282, 1298, 1316], 383, d_dn_groups,
     [(1170, 1229), (1235, 1288), (1293, 1320)], 377, 368),
]
for subs, xs, ysub, groups, spans, yb, yg in headers:
    for s, x in zip(subs, xs):
        text(x, ysub, s, 10)
    for g, (x1, x2) in zip(groups, spans):
        shapes.append(brace(x1, x2, yb))
        text((x1 + x2) / 2, yg, g, 11)

# panel letters
text(36, 62, "a)", 44, bold=False)
text(29, 410, "b)", 44, bold=False)
text(605, 69, "c)", 44, bold=False)
text(600, 431, "d)", 44, bold=False)

# energy axis titles
text(36, 185, "Energy (eV)", 31, angle=-90)
text(34, 525, "Energy (eV)", 31, angle=-90)
text(612, 194, "Energy (eV)", 31, angle=-90)
text(606, 541, "Energy (eV)", 31, angle=-90)

# Fermi level labels
text(113, 157, "E<sub>F</sub>", 23)
text(291, 499, "E<sub>F</sub>", 23)
text(678, 162, "E<sub>F</sub>", 23)
text(674, 499, "E<sub>F</sub>", 23)

# horizontal axis titles
text(208, 318, "DOS/atom", 15)
text(446, 318, "PDOS/atom", 15)
text(176, 643, "DOS/atom", 15)
text(445, 643, "PDOS/atom", 15)
text(741, 316, "DOS/atom (spin up)", 15)
text(914, 317, "DOS/atom (spin down)", 15)
text(1083, 318, "PDOS/atom (spin up)", 15)
text(1253, 318, "PDOS/atom (spin down)", 15)
text(745, 644, "DOS/atom (spin up)", 15)
text(913, 645, "DOS/atom (spin down)", 15)
text(1085, 643, "PDOS/atom (spin up)", 15)
text(1257, 643, "PDOS/atom (spin down)", 15)

layout["shapes"] = shapes
layout["annotations"] = annotations
fig.update_layout(**layout)
fig.write_html("out.html")
